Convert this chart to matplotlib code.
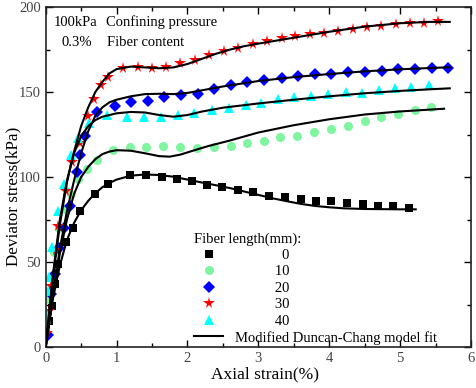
import numpy as np
import matplotlib
matplotlib.use("Agg")
import matplotlib.pyplot as plt
from matplotlib.lines import Line2D
from matplotlib.ticker import MultipleLocator

plt.rcParams['font.family'] = ['Liberation Serif', 'DejaVu Serif']

# === Test data (fiber length groups) ===
x_0 = [0.05, 0.09, 0.13, 0.18, 0.29, 0.38, 0.49, 0.69, 0.88, 1.19, 1.41, 1.64, 1.85, 2.06, 2.28,
       2.49, 2.71, 2.93, 3.15, 3.38, 3.60, 3.81, 4.02, 4.25, 4.47, 4.69, 4.90, 5.12]
y_0 = [15, 24, 37, 49, 62, 70, 80, 90, 96, 101, 101, 100, 98.6, 97.8, 95.3,
       94.3, 92.4, 91, 89, 88, 87, 86, 86, 85, 84, 83, 83, 82]

x_10 = [0.01, 0.03, 0.07, 0.12, 0.19, 0.27, 0.35, 0.46, 0.58, 0.73, 0.95, 1.19, 1.42, 1.66, 1.90,
        2.13, 2.37, 2.61, 2.84, 3.08, 3.31, 3.55, 3.79, 4.02, 4.26, 4.50, 4.73, 4.97, 5.21, 5.44]
y_10 = [15, 28, 42, 56, 70, 81, 90, 99, 105, 110, 116, 117.4, 117.8, 118.4, 117.8,
        117.2, 117.8, 118.4, 120.2, 121.2, 123.3, 124.3, 126.3, 128.2, 130.2, 133.1, 135.1, 137.1, 139.4, 141.2]

x_20 = [0.03, 0.08, 0.13, 0.19, 0.26, 0.34, 0.44, 0.49, 0.56, 0.73, 0.98, 1.20, 1.44, 1.67, 1.91,
        2.15, 2.37, 2.62, 2.84, 3.08, 3.33, 3.56, 3.80, 4.02, 4.27, 4.50, 4.74, 4.97, 5.21, 5.45, 5.68]
y_20 = [7, 31, 43, 58, 70, 83, 103, 113, 124, 138, 142, 144, 145, 147, 148,
        149, 152, 154, 156, 157, 158.5, 159.4, 160.4, 160.4, 161.6, 161.6, 162.6, 163.3, 163.5, 164.3, 164.3]

x_30 = [0.02, 0.04, 0.08, 0.14, 0.18, 0.28, 0.37, 0.49, 0.59, 0.68, 0.78, 0.88, 1.09, 1.30, 1.50,
        1.70, 1.90, 2.10, 2.30, 2.51, 2.71, 2.92, 3.12, 3.33, 3.52, 3.73, 3.93, 4.13, 4.34, 4.53,
        4.73, 4.94, 5.14, 5.34, 5.54]
y_30 = [8, 21, 36, 57, 71, 92, 109, 120, 136, 146, 154, 159, 164, 164.5, 164,
        165, 167, 169, 172, 174, 176, 178, 180, 182, 183, 184, 185, 186, 187, 188,
        189, 190, 190.4, 190.6, 191.8]

x_40 = [0.01, 0.03, 0.04, 0.09, 0.17, 0.26, 0.35, 0.46, 0.61, 0.87, 1.14, 1.39, 1.63, 1.86, 2.09,
        2.34, 2.59, 2.82, 3.04, 3.28, 3.51, 3.74, 3.98, 4.23, 4.46, 4.70, 4.93, 5.16, 5.41]
y_40 = [20, 33, 41, 59, 80, 96, 113, 123, 131.6, 136.5, 135.5, 135.5, 135.1, 136.5, 137.5,
        139.4, 140.4, 142.4, 143.3, 145.9, 147.3, 147.8, 148.8, 150.2, 149.6, 151.2, 152.2, 153.1, 154.1]

# === Modified Duncan-Chang model fit curves ===
fx_0 = [0, 0.1, 0.2, 0.3, 0.4, 0.5, 0.6, 0.7, 0.8, 0.9, 1.0, 1.2, 1.4, 1.6, 1.8, 2.0, 2.2, 2.4,
        2.6, 2.8, 3.0, 3.2, 3.4, 3.6, 3.8, 4.0, 4.2, 4.5, 5.0, 5.22]
fy_0 = [0, 28, 48, 63, 73, 80.5, 86, 90.5, 94, 96.5, 98.5, 100.8, 101.5, 101.2, 100.2, 98.5, 96.8, 95.2,
        93.5, 91.5, 89.5, 87.5, 85.8, 84.2, 83, 82.2, 81.6, 81.2, 81, 81]

fx_10 = [0, 0.1, 0.2, 0.3, 0.4, 0.5, 0.6, 0.7, 0.8, 0.9, 1.0, 1.2, 1.4, 1.6, 1.75, 1.9, 2.1, 2.3,
         2.6, 3.0, 3.5, 4.0, 4.5, 5.0, 5.62]
fy_10 = [0, 30, 55, 75, 90, 100, 106, 110.5, 113.5, 115, 115.8, 115.5, 114, 112.3, 112, 113.2, 115.8, 118.3,
         121.5, 126.2, 130.5, 134, 136.8, 138.6, 140.2]

fx_20 = [0, 0.1, 0.2, 0.3, 0.4, 0.5, 0.6, 0.7, 0.8, 0.9, 1.0, 1.2, 1.4, 1.6, 1.8, 2.0, 2.2, 2.5,
         3.0, 3.5, 4.0, 4.5, 5.0, 5.5, 5.7]
fy_20 = [0, 30, 58, 80, 98, 114, 127, 136, 141, 144, 145.5, 147.5, 148.8, 149, 148.8, 149.5, 151, 153.3,
         156.5, 158.8, 160.6, 162.2, 163.4, 164.3, 164.6]

fx_30 = [0, 0.1, 0.2, 0.3, 0.4, 0.5, 0.6, 0.7, 0.8, 0.9, 1.0, 1.2, 1.4, 1.6, 1.8, 2.0, 2.2, 2.4,
         2.6, 2.8, 3.0, 3.5, 4.0, 4.5, 5.0, 5.4, 5.7]
fy_30 = [0, 40, 72, 97, 115, 130, 141, 150, 156, 161, 163.5, 165, 164.5, 164, 164.5, 166.5, 169.5, 172.5,
         175, 177, 178.5, 182, 185.5, 188.5, 190.5, 191.3, 191.3]

fx_40 = [0, 0.1, 0.2, 0.3, 0.4, 0.5, 0.6, 0.7, 0.8, 1.0, 1.2, 1.4, 1.6, 1.8, 2.0, 2.2, 2.5,
         3.0, 3.5, 4.0, 4.5, 5.0, 5.5, 5.7]
fy_40 = [0, 42, 75, 98, 114, 124, 130, 133.5, 135.5, 137.5, 138.3, 138, 136.5, 135.5, 136.5, 138.5, 140.8,
         143.3, 145.5, 147.5, 149.3, 150.7, 151.8, 152.2]

labels = ["0", "10", "20", "30", "40"]
markers = ["s", "o", "D", "*", "^"]
colors = ["black", "#80f5a0", "#0000ff", "#ff0000", "#00ffff"]
msizes = [5.5, 6.5, 6.3, 8.5, 7]

data = [(x_0, y_0), (x_10, y_10), (x_20, y_20), (x_30, y_30), (x_40, y_40)]
fits = [(fx_0, fy_0), (fx_10, fy_10), (fx_20, fy_20), (fx_30, fy_30), (fx_40, fy_40)]

fig = plt.figure(figsize=(4.77, 3.88), dpi=100)
ax = fig.add_axes([0.0958, 0.1057, 0.8916, 0.876])

handles = []
for (xs, ys), m, c, s in zip(data, markers, colors, msizes):
    h, = ax.plot(xs, ys, linestyle="none", marker=m, color=c, markersize=s,
                 markeredgewidth=0, zorder=2)
    handles.append(h)

for fx, fy in fits:
    ax.plot(fx, fy, color="black", lw=1.5, zorder=3)

fit_handle = Line2D([], [], color="black", lw=1.5)

# pad the numbers so they sit in a column like the original
leg_labels = ["           " + "  " + labels[0]] + ["           " + l for l in labels[1:]]
leg = ax.legend(handles + [fit_handle], leg_labels + ["Modified Duncan-Chang model fit"],
                title="Fiber length(mm):", loc="lower left", bbox_to_anchor=(0.325, -0.023),
                frameon=False, fontsize=10.5, title_fontsize=10.5, handlelength=2.0,
                handletextpad=0.8, labelspacing=0.22, borderpad=0.2)
leg._legend_box.align = "left"

ax.set_xlim(0, 6)
ax.set_ylim(0, 200)

ax.xaxis.set_major_locator(MultipleLocator(1))
ax.xaxis.set_minor_locator(MultipleLocator(0.5))
ax.yaxis.set_major_locator(MultipleLocator(50))
ax.yaxis.set_minor_locator(MultipleLocator(25))
ax.tick_params(which="both", direction="in", top=True, right=True, labelsize=10.5,
               labelcolor="#444444", width=1)
ax.tick_params(which="major", length=5)
ax.tick_params(which="minor", length=3)
for sp in ax.spines.values():
    sp.set_linewidth(1.2)
    sp.set_color("#222222")

ax.set_xlabel("Axial strain(%)", fontsize=12.5)
ax.xaxis.set_label_coords(0.516, -0.058)
ax.xaxis.label.set_va("top")
ax.set_ylabel("Deviator stress(kPa)", fontsize=12.3)
ax.yaxis.set_label_coords(-0.077, 0.444)
ax.yaxis.label.set_va("center")

# annotation texts in the top left corner
ax.text(0.02, 0.943, "100kPa", transform=ax.transAxes, fontsize=10.5)
ax.text(0.141, 0.943, "Confining pressure", transform=ax.transAxes, fontsize=10.5)
ax.text(0.037, 0.885, "0.3%", transform=ax.transAxes, fontsize=10.5)
ax.text(0.143, 0.885, "Fiber content", transform=ax.transAxes, fontsize=10.5)

fig.savefig("out.png", dpi=100)
